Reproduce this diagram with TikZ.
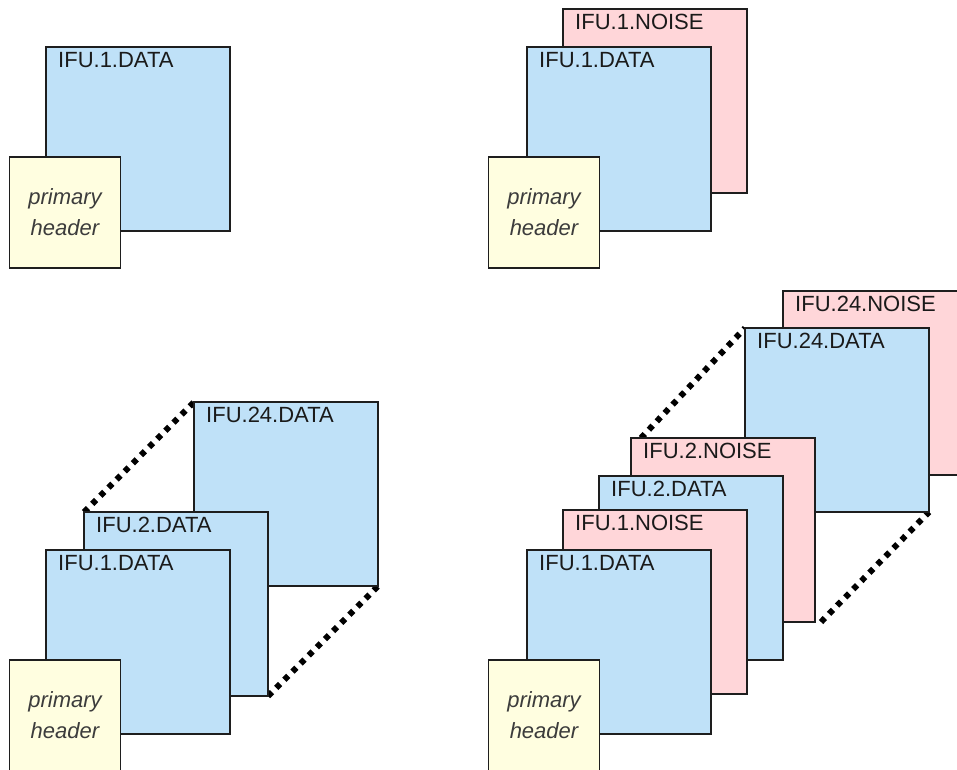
\documentclass[tikz,border=0pt]{standalone}
\usepackage{fontspec}
\setmainfont{Liberation Sans}
\pgfdeclarelayer{back}
\pgfsetlayers{back,main}
\definecolor{datablue}{HTML}{BFE1F8}
\definecolor{noisepink}{HTML}{FFD6D9}
\definecolor{hdryellow}{HTML}{FFFEE0}
\definecolor{edge}{HTML}{1E1E1E}
\definecolor{ink}{HTML}{1A1A1A}
\tikzset{
  ext/.style={draw=edge, line width=1.4pt, anchor=north west,
    minimum width=184pt, minimum height=184pt, inner sep=0pt, outer sep=0pt},
  databox/.style={ext, fill=datablue},
  noisebox/.style={ext, fill=noisepink},
  hdrbox/.style={ext, fill=hdryellow, minimum width=111pt, minimum height=111pt,
    align=center, font=\fontsize{22}{31}\selectfont\itshape, text=ink!85},
  extname/.style={anchor=base west, inner sep=0pt,
    font=\fontsize{22}{26}\selectfont, text=ink},
  ellipsis/.style={draw=black, line width=6pt, dash pattern=on 5.5pt off 6pt}
}
% #1 name, #2 left, #3 top (pixels from the upper left), #4 style, #5 extension name
\newcommand\extbox[5]{%
  \node[#4] (#1) at (#2pt,-#3pt) {};
  \node[extname] (#1-name) at ([xshift=12pt,yshift=-20.5pt]#1.north west) {#5};}

\begin{document}
\begin{tikzpicture}
\useasboundingbox (0,0) rectangle (957pt,-769pt);
\clip (0,0) rectangle (957pt,-769pt);

% one data extension
\extbox{aD1}{46}{47}{databox}{IFU.1.DATA}
\node[hdrbox] (aH) at (9.5pt,-157pt) {primary\\header};

% data and noise extension
\extbox{bN1}{563}{9}{noisebox}{IFU.1.NOISE}
\extbox{bD1}{527}{47}{databox}{IFU.1.DATA}
\node[hdrbox] (bH) at (488.5pt,-157pt) {primary\\header};

% 24 data extensions
\extbox{cD24}{194}{402}{databox}{IFU.24.DATA}
\extbox{cD2}{84}{512}{databox}{IFU.2.DATA}
\extbox{cD1}{46}{550}{databox}{IFU.1.DATA}
\node[hdrbox] (cH) at (9.5pt,-660pt) {primary\\header};

% 24 data and noise extensions
\extbox{dN24}{783}{291}{noisebox}{IFU.24.NOISE}
\extbox{dD24}{745}{328}{databox}{IFU.24.DATA}
\extbox{dN2}{631}{438}{noisebox}{IFU.2.NOISE}
\extbox{dD2}{599}{476}{databox}{IFU.2.DATA}
\extbox{dN1}{563}{510}{noisebox}{IFU.1.NOISE}
\extbox{dD1}{527}{550}{databox}{IFU.1.DATA}
\node[hdrbox] (dH) at (488.5pt,-660pt) {primary\\header};

% dotted ellipses behind the boxes
\begin{pgfonlayer}{back}
  \draw[ellipsis] (cD2.north west) -- (cD24.north west);
  \draw[ellipsis] (cD2.south east) -- (cD24.south east);
  \draw[ellipsis] ([xshift=10pt]dN2.north west) -- (dD24.north west);
  \draw[ellipsis] ([xshift=6pt]dN2.south east) -- (dD24.south east);
\end{pgfonlayer}
\end{tikzpicture}
\end{document}
